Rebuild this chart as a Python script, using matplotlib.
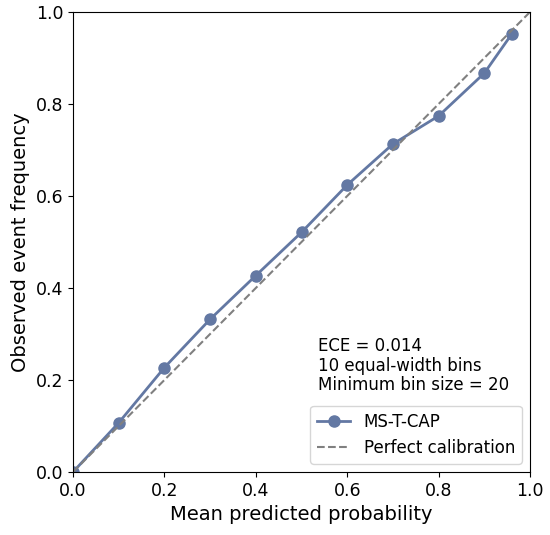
import matplotlib
matplotlib.use("Agg")
import matplotlib.pyplot as plt

mean_pred = [0.0, 0.1, 0.2, 0.3, 0.4, 0.5, 0.6, 0.7, 0.8, 0.9, 0.96]
obs_freq = [0.0, 0.107, 0.227, 0.332, 0.427, 0.521, 0.624, 0.713, 0.774, 0.867, 0.952]
ticks = [0.0, 0.2, 0.4, 0.6, 0.8, 1.0]
line_color = "#6378a3"

fig = plt.figure(figsize=(5.5, 5.35), dpi=100)
ax = fig.add_axes([73/550, 1 - 472/535, 457/550, 460/535])
ax.plot(mean_pred, obs_freq, marker="o", color=line_color, lw=2, ms=8, label="MS-T-CAP")
ax.plot([0, 1], [0, 1], ls="--", color="gray", lw=1.5, label="Perfect calibration")
ax.set_xlim(0, 1)
ax.set_ylim(0, 1)
ax.set_xticks(ticks)
ax.set_yticks(ticks)
ax.tick_params(labelsize=12.5)
ax.set_xlabel("Mean predicted probability", fontsize=14)
ax.set_ylabel("Observed event frequency", fontsize=14)
ax.text(0.536, 0.293, "ECE = 0.014\n10 equal-width bins\nMinimum bin size = 20",
        transform=ax.transAxes, fontsize=12, va="top", ha="left", linespacing=1.1)
ax.legend(loc="lower right", fontsize=12, borderaxespad=0.5)
fig.savefig("out.png", dpi=100)
